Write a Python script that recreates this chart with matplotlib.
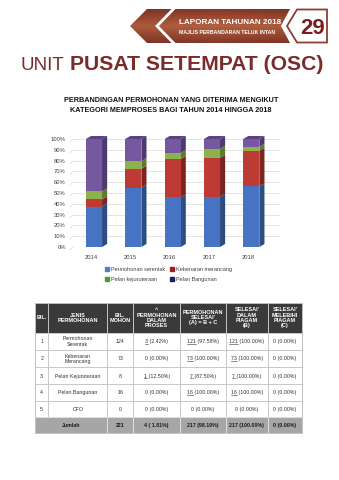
import numpy as np
import matplotlib
matplotlib.use('Agg')
import matplotlib.pyplot as plt
from matplotlib.patches import Polygon, Rectangle, Patch

plt.rcParams['font.family'] = ['Liberation Sans', 'DejaVu Sans']

# chart data (percent of applications per year)
years = ['2014', '2015', '2016', '2017', '2018']
serentak = [37.5, 55.0, 46.0, 46.5, 56.1]
kebenaran = [6.5, 17.5, 35.5, 36.0, 33.0]
kejuruteraan = [7.5, 7.0, 5.5, 8.5, 3.6]
bangunan = [48.5, 20.5, 13.0, 9.0, 7.3]
series_names = ['Permohonan serentak', 'Kebenaran merancang',
                'Pelan kejuruteraan', 'Pelan Bangunan']

# table data
tbl_header = ['BIL.', 'JENIS\nPERMOHONAN', 'BIL.\nMOHON',
              '^\nPERMOHONAN\nDALAM\nPROSES',
              "PERMOHONAN\nSELESAI'\n(A) = B + C",
              "SELESAI'\nDALAM\nPIAGAM\n(B)",
              "SELESAI'\nMELEBIHI\nPIAGAM\n(C)"]
tbl_bil = ['1', '2', '3', '4', '5']
tbl_jenis = ['Permohonan\nSerentak', 'Kebenaran\nMerancang', 'Pelan Kejuruteraan',
             'Pelan Bangunan', 'CFO']
tbl_mohon = ['124', '73', '8', '16', '0']
tbl_proses = ['3 (2.42%)', '0 (0.00%)', '1 (12.50%)', '0 (0.00%)', '0 (0.00%)']
tbl_selesai = ['121 (97.58%)', '73 (100.00%)', '7 (87.50%)', '16 (100.00%)', '0 (0.00%)']
tbl_dalam = ['121 (100.00%)', '73 (100.00%)', '7 (100.00%)', '16 (100.00%)', '0 (0.00%)']
tbl_lebih = ['0 (0.00%)', '0 (0.00%)', '0 (0.00%)', '0 (0.00%)', '0 (0.00%)']
tbl_jumlah = ['221', '4 ( 1.81%)', '217 (98.19%)', '217 (100.00%)', '0 (0.00%)']

title_col = '#7B2C2A'
text_col = '#333333'

fig = plt.figure(figsize=(3.39, 4.80), dpi=100)
bg = fig.add_axes([0, 0, 1, 1])
bg.set_xlim(0, 339)
bg.set_ylim(480, 0)
bg.axis('off')

# ---- banner ----
band = Polygon([(130, 26), (147, 9), (290, 9), (281, 26), (290, 43), (147, 43)],
               closed=True, facecolor='none', edgecolor='none')
bg.add_patch(band)
yy = np.linspace(0, 1, 60)[:, None]
xx = np.linspace(0, 1, 200)[None, :]
t = np.clip(np.abs(yy - 0.5) * 1.6 + 0.25 * np.abs(xx - 0.55), 0, 1)
light = np.array([0.70, 0.38, 0.25])
dark = np.array([0.46, 0.17, 0.13])
grad = light[None, None, :] * (1 - t[..., None]) + dark[None, None, :] * t[..., None]
im = bg.imshow(grad, extent=(128, 292, 44, 8), aspect='auto', zorder=2)
im.set_clip_path(band)
bg.plot([174, 157, 174], [8.5, 26, 43.5], color='white', lw=2.0,
        solid_joinstyle='miter', zorder=3)
bg.add_patch(Polygon([(287, 26), (297, 9.5), (327, 9.5), (327, 42.5), (297, 42.5)],
                     closed=True, facecolor='white', edgecolor='#8E3D30', lw=1.3, zorder=2))
bg.text(179, 24.5, 'LAPORAN TAHUNAN 2018', color='white', weight='bold',
        fontsize=5.9, zorder=4)
bg.text(179, 33.5, 'MAJLIS PERBANDARAN TELUK INTAN', color='white', weight='bold',
        fontsize=3.7, zorder=4)
bg.text(313, 33.5, '29', color='#7A1E1E', weight='bold', fontsize=16, ha='center',
        zorder=4)

# ---- page title ----
bg.text(20, 70, 'UNIT', color=title_col, fontsize=13.5)
bg.text(70, 70, 'PUSAT SETEMPAT (OSC)', color=title_col, fontsize=15.2, weight='bold')

# ---- chart title ----
bg.text(171, 101.7, 'PERBANDINGAN PERMOHONAN YANG DITERIMA MENGIKUT',
        ha='center', weight='bold', fontsize=5.2, color='#111111')
bg.text(171, 111.7, 'KATEGORI MEMPROSES BAGI TAHUN 2014 HINGGA 2018',
        ha='center', weight='bold', fontsize=5.2, color='#111111')

# ---- 3d-ish stacked bar chart ----
ax = fig.add_axes([70 / 339, (480 - 247) / 480, 210 / 339, 108 / 480])
x = np.arange(len(years))
w, dx, dy = 0.41, 0.13, 2.8
ax.set_xlim(-0.61, 4.73)
ax.set_ylim(0, 100)

gc = '#D9D9D9'
for v in range(0, 101, 10):
    ax.axhline(v, xmin=0.015, xmax=1, color=gc, lw=0.5, zorder=1)
    ax.plot([0, 0.015], [v - 2.8, v], transform=ax.get_yaxis_transform(),
            color=gc, lw=0.5, clip_on=False, zorder=1)

fronts = ['#4673C2', '#BE3B35', '#8DB14B', '#7658A0']
sides = ['#2D4C80', '#7C2420', '#5E7A2E', '#4E3A6E']
bottom = np.zeros(len(years))
for vals, fc, sc in zip([serentak, kebenaran, kejuruteraan, bangunan], fronts, sides):
    vals = np.array(vals)
    ax.bar(x, vals, w, bottom=bottom, color=fc, zorder=3, clip_on=False)
    for xi, b, h in zip(x, bottom, vals):
        r = xi + w / 2
        ax.add_patch(Polygon([(r, b), (r + dx, b + dy), (r + dx, b + h + dy), (r, b + h)],
                             closed=True, facecolor=sc, edgecolor='none', zorder=2.5,
                             clip_on=False))
    bottom = bottom + vals
for xi, top in zip(x, bottom):
    l = xi - w / 2
    ax.add_patch(Polygon([(l, top), (l + dx, top + dy), (l + w + dx, top + dy), (l + w, top)],
                         closed=True, facecolor='#5B4380', edgecolor='none', zorder=3,
                         clip_on=False))

ax.set_yticks(range(0, 101, 10))
ax.set_yticklabels([f'{v}%' for v in range(0, 101, 10)], fontsize=4.2, color='#404040')
ax.set_xticks(x - 0.08)
ax.set_xticklabels(years, fontsize=4.2, color='#404040')
ax.tick_params(length=0)
ax.tick_params(axis='x', pad=6)
ax.tick_params(axis='y', pad=3)
for s in ax.spines.values():
    s.set_visible(False)
ax.patch.set_alpha(0)

leg_cols = ['#4F81BD', '#A11E1E', '#4E9A3B', '#1F1F5C']
handles = [Patch(color=c) for c in leg_cols]
order = [0, 2, 1, 3]
fig.legend([handles[i] for i in order], [series_names[i] for i in order], ncol=2,
           loc='upper left', bbox_to_anchor=(103 / 339, 1 - 265 / 480), fontsize=4,
           frameon=False, handlelength=0.7, handleheight=0.7, handletextpad=0.4,
           columnspacing=0.8, labelspacing=0.8, labelcolor='#404040', borderaxespad=0)

# ---- table ----
col_x = [35, 48.3, 107.3, 133.3, 180, 226, 267.7, 302]
row_y = [302.7, 332.7, 350, 367.3, 384.3, 400.7, 417, 433.3]

renderer = fig.canvas.get_renderer()


def cell_text(cx, cy, s, underline=False, **kw):
    txt = bg.text(cx, cy, s, ha='center', va='center', **kw)
    if underline:
        num = s.split(' ')[0]
        bb = txt.get_window_extent(renderer)
        tmp = bg.text(0, 0, num, **kw)
        nw = tmp.get_window_extent(renderer).width
        tmp.remove()
        inv = bg.transData.inverted()
        x0, yb = inv.transform((bb.x0, bb.y0))
        x1, _ = inv.transform((bb.x0 + nw, bb.y0))
        bg.plot([x0, x1], [yb - 0.6, yb - 0.6], color=kw.get('color', text_col), lw=0.4)


# header
for j, h in enumerate(tbl_header):
    bg.add_patch(Rectangle((col_x[j], row_y[0]), col_x[j + 1] - col_x[j], row_y[1] - row_y[0],
                           facecolor='#3A3A3A', edgecolor='#DDDDDD', lw=0.5))
    cell_text((col_x[j] + col_x[j + 1]) / 2, (row_y[0] + row_y[1]) / 2, h,
              color='white', weight='bold', fontsize=4.0, linespacing=1.05)

# body
body_cols = [tbl_bil, tbl_jenis, tbl_mohon, tbl_proses, tbl_selesai, tbl_dalam, tbl_lebih]
ul_cols = [3, 4, 5]
for i in range(len(tbl_bil)):
    y0, y1 = row_y[i + 1], row_y[i + 2]
    for j, col in enumerate(body_cols):
        bg.add_patch(Rectangle((col_x[j], y0), col_x[j + 1] - col_x[j], y1 - y0,
                               facecolor='white', edgecolor='#C4C4C4', lw=0.6))
        s = col[i]
        ul = j in ul_cols and s.split(' ')[0] != '0'
        cell_text((col_x[j] + col_x[j + 1]) / 2, (y0 + y1) / 2 + 0.3, s, underline=ul,
                  color=text_col, fontsize=3.8, linespacing=1.1)

# total row
y0, y1 = row_y[-2], row_y[-1]
bg.add_patch(Rectangle((col_x[0], y0), col_x[2] - col_x[0], y1 - y0,
                       facecolor='#A6A6A6', edgecolor='#E6E6E6', lw=0.6))
cell_text((col_x[0] + col_x[2]) / 2, (y0 + y1) / 2 + 0.3, 'Jumlah',
          color='#1A1A1A', weight='bold', fontsize=3.8)
for j, s in enumerate(tbl_jumlah):
    c = j + 2
    bg.add_patch(Rectangle((col_x[c], y0), col_x[c + 1] - col_x[c], y1 - y0,
                           facecolor='#A6A6A6', edgecolor='#E6E6E6', lw=0.6))
    cell_text((col_x[c] + col_x[c + 1]) / 2, (y0 + y1) / 2 + 0.3, s,
              color='#1A1A1A', weight='bold', fontsize=3.8)
bg.add_patch(Rectangle((col_x[0], row_y[0]), col_x[-1] - col_x[0], row_y[-1] - row_y[0],
                       facecolor='none', edgecolor='#BDBDBD', lw=0.6))

fig.savefig('out.png', dpi=100)
